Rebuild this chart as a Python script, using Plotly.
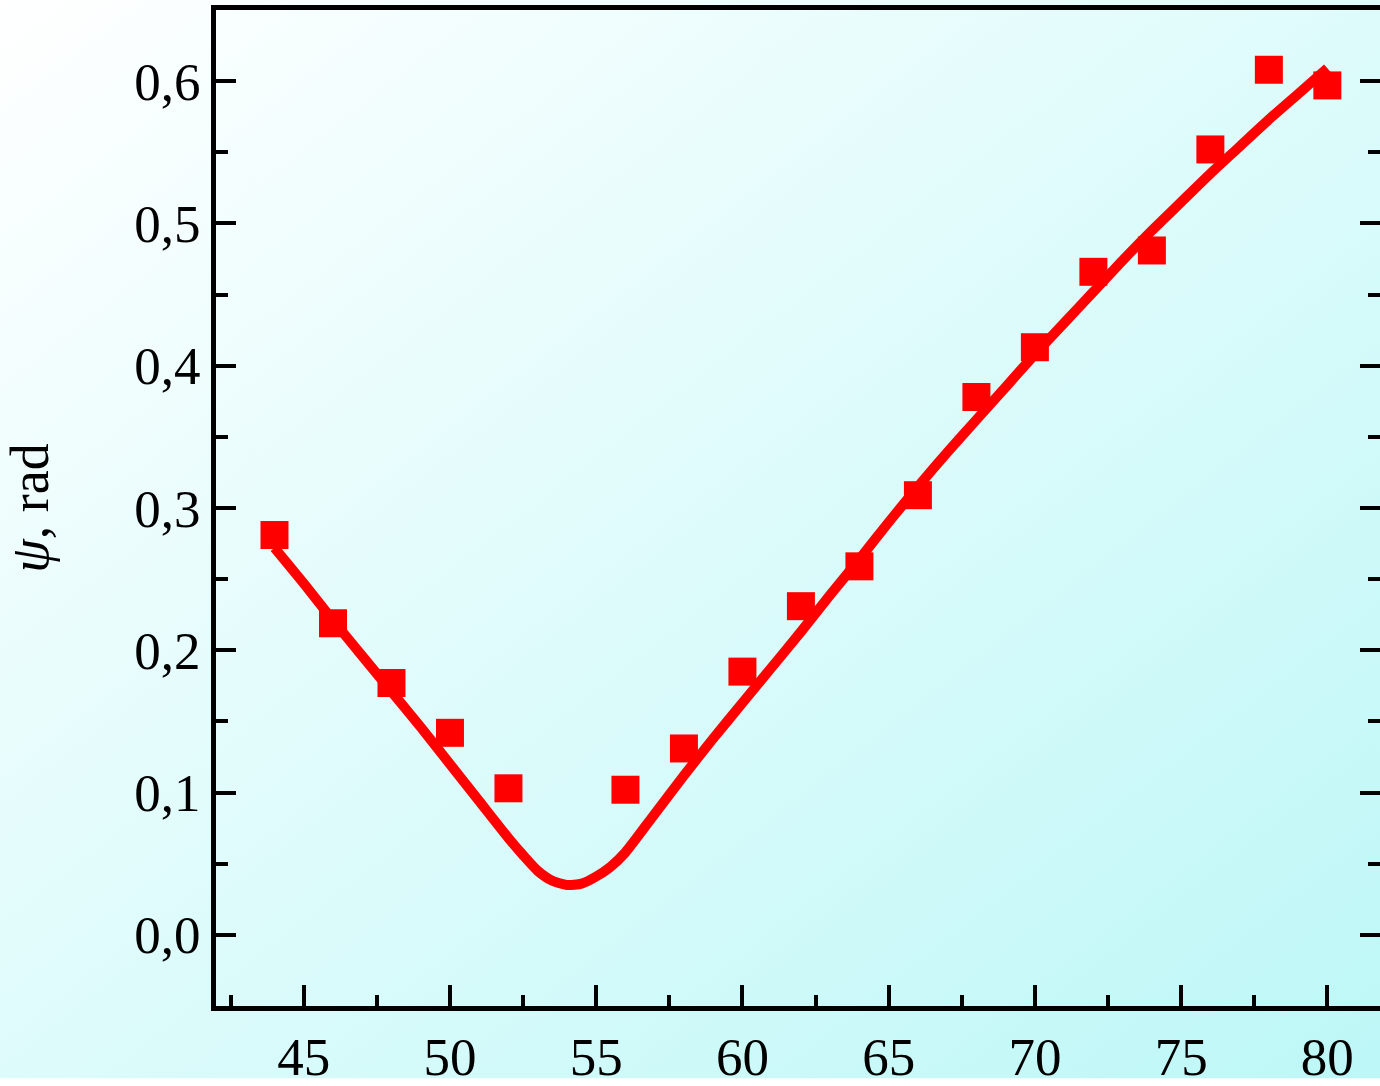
import base64
import plotly.graph_objects as go

# measured points
x_pts = [44, 46, 48, 50, 52, 56, 58, 60, 62, 64, 66, 68, 70, 72, 74, 76, 78, 80]
y_pts = [0.281, 0.219, 0.177, 0.142, 0.103, 0.102, 0.131, 0.185, 0.231, 0.259,
         0.309, 0.378, 0.413, 0.466, 0.481, 0.552, 0.608, 0.597]

# fitted curve
x_fit = [44, 45, 46, 47, 48, 49, 50, 51, 52, 52.5, 53, 53.5, 54, 54.5, 55, 55.5, 56,
         57, 58, 59, 60, 61, 62, 63, 64, 65, 66, 67, 68, 69, 70, 71, 72, 73, 74,
         75, 76, 77, 78, 79, 80]
y_fit = [0.272, 0.247, 0.221, 0.196, 0.171, 0.146, 0.120, 0.094, 0.068, 0.056, 0.045,
         0.038, 0.035, 0.036, 0.041, 0.048, 0.058,
         0.085, 0.112, 0.138, 0.163, 0.188, 0.213, 0.239, 0.264, 0.290, 0.315, 0.339,
         0.362, 0.385, 0.408, 0.430, 0.452, 0.474, 0.495,
         0.515, 0.535, 0.554, 0.573, 0.591, 0.609]

x_range = [42, 81.8]
y_range = [-0.05, 0.65]

W, H = 1380, 1086
ML, MR, MT, MB = 216, 0, 10, 73

svg = (
    f"<svg xmlns='http://www.w3.org/2000/svg' width='{W}' height='{H}' viewBox='0 0 {W} {H}' preserveAspectRatio='none'>"
    "<defs><linearGradient id='g' x1='0' y1='0' x2='1' y2='1'>"
    "<stop offset='0' stop-color='#ffffff'/>"
    "<stop offset='1' stop-color='#bdf7f7'/>"
    "</linearGradient></defs>"
    f"<rect x='0' y='0' width='{W}' height='{H}' fill='url(#g)'/></svg>"
)
svg_uri = "data:image/svg+xml;base64," + base64.b64encode(svg.encode()).decode()

pw = W - ML - MR
ph = H - MT - MB

FONT = "Liberation Serif, Times New Roman, serif"

fig = go.Figure()
fig.add_trace(go.Scatter(
    x=x_fit, y=y_fit, mode="lines",
    line=dict(color="#ff0000", width=10, shape="spline", smoothing=0.6),
    hoverinfo="skip", showlegend=False,
))
fig.add_trace(go.Scatter(
    x=x_pts, y=y_pts, mode="markers",
    marker=dict(symbol="square", size=28, color="#ff0000", line=dict(width=0)),
    showlegend=False,
))
# empty trace so the right-hand (tick-only) axis is drawn
fig.add_trace(go.Scatter(
    x=[None], y=[None], yaxis="y2", mode="markers",
    hoverinfo="skip", showlegend=False,
))

tick_common = dict(ticks="inside", tickcolor="black", showgrid=False, zeroline=False)

fig.update_layout(
    width=W, height=H,
    margin=dict(l=ML, r=MR, t=MT, b=MB, pad=0),
    paper_bgcolor="rgba(0,0,0,0)",
    plot_bgcolor="rgba(0,0,0,0)",
    separators=", ",
    font=dict(family=FONT, size=53, color="black"),
    images=[dict(
        source=svg_uri, xref="paper", yref="paper",
        x=-ML / pw, y=1 + MT / ph, sizex=W / pw, sizey=H / ph,
        xanchor="left", yanchor="top", sizing="stretch", layer="below",
    )],
    xaxis=dict(
        range=x_range, tick0=0, dtick=5, ticklen=21, tickwidth=4,
        showline=True, linewidth=5, linecolor="black", mirror=True,
        minor=dict(dtick=2.5, ticks="inside", ticklen=11, tickwidth=4, tickcolor="black", showgrid=False),
        tickfont=dict(family=FONT, size=53),
        **tick_common,
    ),
    yaxis=dict(
        range=y_range, tick0=0, dtick=0.1, tickformat=".1f",
        ticklen=20, tickwidth=4,
        showline=True, linewidth=5, linecolor="black", mirror=False,
        minor=dict(dtick=0.05, ticks="inside", ticklen=12, tickwidth=4, tickcolor="black", showgrid=False),
        tickfont=dict(family=FONT, size=53),
        title=dict(text="<i>ψ</i>, rad", font=dict(family=FONT, size=54), standoff=72),
        **tick_common,
    ),
    yaxis2=dict(
        overlaying="y", side="right", anchor="x",
        range=y_range, tick0=0, dtick=0.1, ticklen=20, tickwidth=4,
        showline=False, showticklabels=False,
        minor=dict(dtick=0.05, ticks="inside", ticklen=12, tickwidth=4, tickcolor="black", showgrid=False),
        **tick_common,
    ),
)

post = """
document.documentElement.style.margin='0';
document.body.style.margin='0';
document.documentElement.style.overflow='hidden';
document.body.style.overflow='hidden';
"""

fig.write_html(
    "out.html",
    config={"displayModeBar": False},
    post_script=post,
)
